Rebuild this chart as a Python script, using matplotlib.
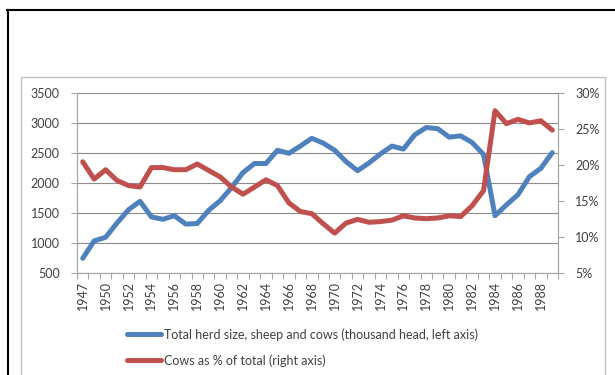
import numpy as np
import matplotlib.pyplot as plt
from matplotlib.lines import Line2D
from matplotlib.patches import Rectangle

plt.rcParams['font.family'] = ['Lato', 'DejaVu Sans']

# yearly series (1948 not in the source)
years = [1947] + list(range(1949, 1990))

herd_total = [740, 1030, 1090, 1330, 1550, 1690, 1430, 1390, 1450, 1310,
              1320, 1540, 1700, 1920, 2170, 2320, 2320, 2540, 2490, 2610,
              2740, 2660, 2540, 2350, 2200, 2330, 2480, 2610, 2560, 2800,
              2920, 2900, 2760, 2780, 2670, 2470, 1450, 1630, 1800, 2100,
              2240, 2500]

cows_pct = [20.4, 18.0, 19.3, 17.8, 17.1, 16.9, 19.6, 19.6, 19.3, 19.3,
            20.1, 19.2, 18.3, 16.9, 15.9, 16.9, 17.9, 17.1, 14.7, 13.5,
            13.2, 11.8, 10.5, 11.9, 12.4, 12.0, 12.1, 12.3, 12.9, 12.6,
            12.5, 12.6, 12.9, 12.8, 14.3, 16.4, 27.5, 25.7, 26.3, 25.8,
            26.1, 24.8]

label_herd = "Total herd size, sheep and cows (thousand head, left axis)"
label_cows = "Cows as % of total (right axis)"

BLUE = "#4F81BD"
RED = "#C0504D"
GRID = "#8C8C8C"
AXIS = "#A6A6A6"
TXT = "#404040"

fig = plt.figure(figsize=(6.15, 3.75), dpi=100)

# chart frame and outer border
fig.add_artist(Rectangle((20.5 / 615, -0.05), (605 - 20.5) / 615, 1.05 - 77 / 375,
                         transform=fig.transFigure, fill=False,
                         edgecolor="#BFBFBF", linewidth=0.9))
fig.add_artist(Line2D([7 / 615, 1.0], [1 - 9.5 / 375] * 2,
                      transform=fig.transFigure, color="black", linewidth=1.5))
fig.add_artist(Line2D([8 / 615] * 2, [0, 1 - 9.5 / 375],
                      transform=fig.transFigure, color="black", linewidth=1.5))

ax = fig.add_axes([77 / 615, 102.3 / 375, (558 - 77) / 615, 180 / 375])
ax2 = ax.twinx()

x = np.arange(len(years))
ax.plot(x, herd_total, color=BLUE, linewidth=3.6, solid_capstyle="round",
        solid_joinstyle="round", label=label_herd)
ax2.plot(x, cows_pct, color=RED, linewidth=3.6, solid_capstyle="round",
         solid_joinstyle="round", label=label_cows)

ax.set_xlim(-0.5, len(years) - 0.5)
ax.set_ylim(500, 3500)
ax2.set_ylim(5, 30)
ax.set_yticks(np.arange(500, 3501, 500))
ax2.set_yticks(np.arange(5, 31, 5))
ax2.set_yticklabels([f"{v}%" for v in range(5, 31, 5)])

ax.yaxis.grid(True, color=GRID, linewidth=0.8)
ax.set_axisbelow(True)

# tick marks between categories, labels on every other category
ax.set_xticks(np.arange(-0.5, len(years), 1.0))
ax.set_xticklabels([])
ax.set_xticks(x[::2], minor=True)
ax.set_xticklabels([str(y) for y in years[::2]], minor=True, rotation=90,
                   fontsize=9, color=TXT)
ax.tick_params(axis="x", which="major", length=4.5, color=AXIS, width=0.8)
ax.tick_params(axis="x", which="minor", length=0, pad=6)
ax.tick_params(axis="y", length=4.5, color=AXIS, width=0.8, labelsize=9,
               labelcolor=TXT, pad=8)
ax2.tick_params(axis="y", length=4.5, color=AXIS, width=0.8, labelsize=9,
                labelcolor=TXT, pad=8)

for a in (ax, ax2):
    a.spines["top"].set_visible(False)
    for s in ("left", "right", "bottom"):
        a.spines[s].set_color(AXIS)
        a.spines[s].set_linewidth(0.8)

handles = [Line2D([], [], color=BLUE, linewidth=3.6, solid_capstyle="round"),
           Line2D([], [], color=RED, linewidth=3.6, solid_capstyle="round")]
fig.legend(handles, [label_herd, label_cows], loc="upper left",
           bbox_to_anchor=(122 / 615, 1 - 323 / 375), frameon=False,
           fontsize=9, handlelength=2.7, handletextpad=0.3, labelspacing=1.1,
           labelcolor=TXT, borderaxespad=0)

fig.savefig("out.png", dpi=100)
